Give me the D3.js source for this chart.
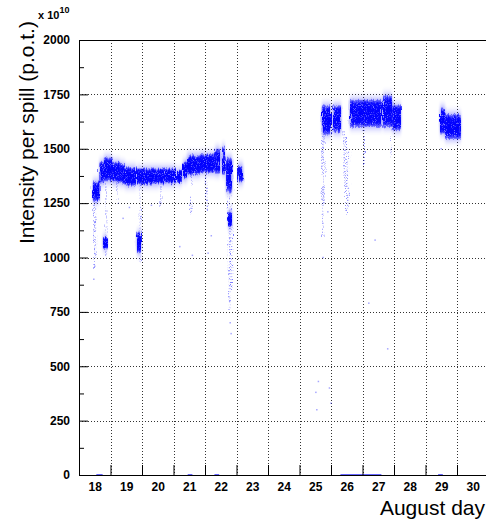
<!DOCTYPE html>
<html>
<head>
<meta charset="utf-8">
<script src="https://cdn.jsdelivr.net/npm/d3@7"></script>
<style>
  body { margin: 0; background: #fff; }
  svg { display: block; font-family: "Liberation Sans", Arial, sans-serif; }
  .tick-lbl text { font-size: 12px; font-weight: bold; fill: #000; }
</style>
</head>
<body>
<script>
// axis values
const dayLabels = [18, 19, 20, 21, 22, 23, 24, 25, 26, 27, 28, 29, 30];
const dayBounds = [19, 20, 21, 22, 23, 24, 25, 26, 27, 28, 29, 30];
const yTicks = [0, 250, 500, 750, 1000, 1250, 1500, 1750, 2000];
const yMinor = [125, 375, 625, 875, 1125, 1375, 1625, 1875];

// dense parts of the scatter: time span (day) and intensity range (x 1e10 p.o.t.)
const bandStart = [18.44, 18.65, 18.79, 19.05, 19.30, 19.46, 19.84, 20.51, 21.11, 21.30, 21.43, 21.84, 22.32, 22.54, 22.67, 23.05,
                   25.71, 26.06, 26.60, 27.65, 27.94, 29.46, 29.62,
                   18.76, 19.84, 22.73];
const bandEnd   = [18.65, 18.79, 19.05, 19.30, 19.46, 19.81, 20.51, 21.08, 21.27, 21.43, 21.84, 22.32, 22.48, 22.63, 22.86, 23.21,
                   26.00, 26.32, 27.62, 27.94, 28.22, 29.62, 30.12,
                   18.89, 19.97, 22.86];
const bandLow   = [1260, 1340, 1350, 1345, 1340, 1330, 1335, 1340, 1345, 1360, 1380, 1390, 1385, 1380, 1300, 1345,
                   1565, 1575, 1600, 1600, 1585, 1570, 1545,
                   1040, 1020, 1140];
const bandHigh  = [1350, 1440, 1460, 1440, 1430, 1415, 1410, 1410, 1400, 1440, 1470, 1475, 1500, 1510, 1460, 1425,
                   1700, 1700, 1725, 1745, 1700, 1690, 1660,
                   1095, 1115, 1210];

// sparse vertical tails below the bands
const streakDay  = [18.48, 18.52, 18.85, 19.20, 19.95, 20.60, 21.55, 22.05, 22.78, 22.84, 25.74, 25.78, 26.42, 26.48, 26.55, 27.05, 27.90];
const streakLow  = [ 950, 1000, 1000, 1250, 980, 1230, 1200, 1220, 760, 850, 1100, 1250, 1320, 1200, 1220, 1420, 1450];
const streakHigh = [1260, 1280, 1340, 1340, 1330, 1340, 1380, 1390, 1300, 1150, 1560, 1570, 1580, 1550, 1500, 1600, 1590];

// isolated points
const outDay = [18.47, 18.50, 19.40, 19.60, 20.30, 21.20, 21.60, 22.10, 22.20, 22.80, 22.83, 25.52, 25.55, 25.60, 25.95, 26.00, 25.90, 27.20, 27.40, 27.80, 25.75, 29.50];
const outVal = [ 900,  960, 1180, 1230, 1240, 1050, 1010, 1020, 1100,  700,  650,  380,  300,  430,  400,  330, 1210,  790, 1080,  580, 1000, 1500];

// runs recorded at zero intensity
const zeroStart = [18.55, 21.45, 22.30, 26.30, 29.40];
const zeroEnd   = [18.75, 21.60, 22.45, 27.60, 29.55];

const W = 486, H = 523;
const svg = d3.select("body").append("svg").attr("width", W).attr("height", H);

const x = d3.scaleLinear().domain([18, 31]).range([79, 79 + 13 * 31.5]);
const y = d3.scaleLinear().domain([0, 2000]).range([475, 40]);

const defs = svg.append("defs");
// soft top/bottom edges for the dense bands
const grad = defs.append("linearGradient").attr("id", "bandGrad")
  .attr("x1", 0).attr("y1", 0).attr("x2", 0).attr("y2", 1);
[[0, 0.35], [0.15, 0.95], [0.5, 1], [0.85, 0.95], [1, 0.35]].forEach(([o, a]) => {
  grad.append("stop").attr("offset", o).attr("stop-color", "#0000ff").attr("stop-opacity", a);
});
// ragged edges + light speckle so the bands read like a dense point cloud
const filt = defs.append("filter").attr("id", "speckle")
  .attr("x", "-10%").attr("y", "-30%").attr("width", "120%").attr("height", "160%");
filt.append("feTurbulence").attr("type", "fractalNoise").attr("baseFrequency", "0.7 0.08")
  .attr("numOctaves", 2).attr("seed", 4).attr("result", "noise");
filt.append("feDisplacementMap").attr("in", "SourceGraphic").attr("in2", "noise")
  .attr("scale", 6).attr("xChannelSelector", "R").attr("yChannelSelector", "G").attr("result", "disp");
filt.append("feTurbulence").attr("type", "fractalNoise").attr("baseFrequency", "1.1")
  .attr("numOctaves", 1).attr("seed", 9).attr("result", "n2");
filt.append("feColorMatrix").attr("in", "n2").attr("type", "matrix")
  .attr("values", "0 0 0 0 0  0 0 0 0 0  0 0 0 0 0  0 0 0 4 -0.8").attr("result", "mask");
filt.append("feComposite").attr("in", "disp").attr("in2", "mask").attr("operator", "in");
// faint halo around each band
defs.append("filter").attr("id", "halo").attr("x", "-20%").attr("y", "-60%").attr("width", "140%").attr("height", "220%")
  .append("feGaussianBlur").attr("stdDeviation", "1 4");

// gridlines
const grid = svg.append("g").attr("stroke", "#333").attr("stroke-dasharray", "1,2").attr("stroke-width", 1);
grid.selectAll("line.h").data(yTicks.filter(v => v > 0 && v < 2000)).enter().append("line")
  .attr("x1", 79).attr("x2", W).attr("y1", d => Math.round(y(d)) + 0.5).attr("y2", d => Math.round(y(d)) + 0.5);
grid.selectAll("line.v").data(dayBounds).enter().append("line")
  .attr("y1", 40).attr("y2", 475).attr("x1", d => Math.round(x(d)) + 0.5).attr("x2", d => Math.round(x(d)) + 0.5);

// data
const data = svg.append("g");
data.append("g").attr("filter", "url(#speckle)")
  .selectAll("line").data(streakDay).enter().append("line")
  .attr("x1", d => x(d)).attr("x2", d => x(d))
  .attr("y1", (d, i) => y(streakHigh[i])).attr("y2", (d, i) => y(streakLow[i]))
  .attr("stroke", "#0000ff").attr("stroke-opacity", 0.5).attr("stroke-width", 1.5)
  .attr("stroke-dasharray", "1,2");

const bandRect = sel => sel
  .attr("x", d => x(d))
  .attr("width", (d, i) => Math.max(1, x(bandEnd[i]) - x(d)))
  .attr("y", (d, i) => y(bandHigh[i]))
  .attr("height", (d, i) => y(bandLow[i]) - y(bandHigh[i]));

data.append("g").attr("filter", "url(#halo)").attr("opacity", 0.45)
  .selectAll("rect").data(bandStart).enter().append("rect")
  .call(bandRect).attr("fill", "#0000ff");

data.append("g").attr("filter", "url(#speckle)")
  .selectAll("rect").data(bandStart).enter().append("rect")
  .call(bandRect).attr("fill", "url(#bandGrad)");

data.selectAll("rect.out").data(outDay).enter().append("rect").attr("class", "out")
  .attr("x", d => x(d) - 0.75).attr("y", (d, i) => y(outVal[i]) - 0.75)
  .attr("width", 1.5).attr("height", 1.5)
  .attr("fill", "#0000ff").attr("fill-opacity", 0.35);

data.selectAll("rect.zero").data(zeroStart).enter().append("rect").attr("class", "zero")
  .attr("x", d => x(d)).attr("y", y(0) - 1)
  .attr("width", (d, i) => x(zeroEnd[i]) - x(d)).attr("height", 1.5)
  .attr("fill", "#0000ff").attr("fill-opacity", 0.6);

// axes (ticks point into the frame, ROOT style)
const yAx = svg.append("g").attr("class", "tick-lbl").attr("transform", "translate(79,0)")
  .call(d3.axisLeft(y).tickValues(yTicks).tickSizeInner(-9).tickSizeOuter(0).tickPadding(9).tickFormat(d3.format("d")));
const yAxMinor = svg.append("g").attr("transform", "translate(79,0)")
  .call(d3.axisLeft(y).tickValues(yMinor).tickSizeInner(-5).tickSizeOuter(0).tickFormat(""));
const xAx = svg.append("g").attr("transform", "translate(0,475)")
  .call(d3.axisBottom(x).tickValues(dayBounds).tickSizeInner(-10).tickSizeOuter(0).tickFormat(""));
const xLab = svg.append("g").attr("class", "tick-lbl").attr("transform", "translate(0,475)")
  .call(d3.axisBottom(x).tickValues(dayLabels.map(d => d + 0.5)).tickSize(0).tickPadding(7)
    .tickFormat(d => Math.floor(d)));
[yAx, yAxMinor, xAx, xLab].forEach(g => { g.select(".domain").remove(); g.selectAll("line").attr("stroke", "#000"); });

// frame
const frame = svg.append("g").attr("stroke", "#000").attr("stroke-width", 1);
frame.append("line").attr("x1", 79.5).attr("x2", 79.5).attr("y1", 40).attr("y2", 475.5);
frame.append("line").attr("x1", 79).attr("x2", W).attr("y1", 475.5).attr("y2", 475.5);
frame.append("line").attr("x1", 79).attr("x2", W).attr("y1", 40.5).attr("y2", 40.5);

// titles
svg.append("text").attr("x", 485).attr("y", 515).attr("text-anchor", "end")
  .attr("font-size", 21).text("August day");
svg.append("text").attr("transform", "translate(34,244) rotate(-90)")
  .attr("font-size", 21).text("Intensity per spill (p.o.t.)");
const mult = svg.append("text").attr("x", 38).attr("y", 19).attr("font-size", 11).attr("font-weight", "bold");
mult.append("tspan").text("x 10");
mult.append("tspan").attr("dy", -6).attr("font-size", 9).text("10");
</script>
</body>
</html>
